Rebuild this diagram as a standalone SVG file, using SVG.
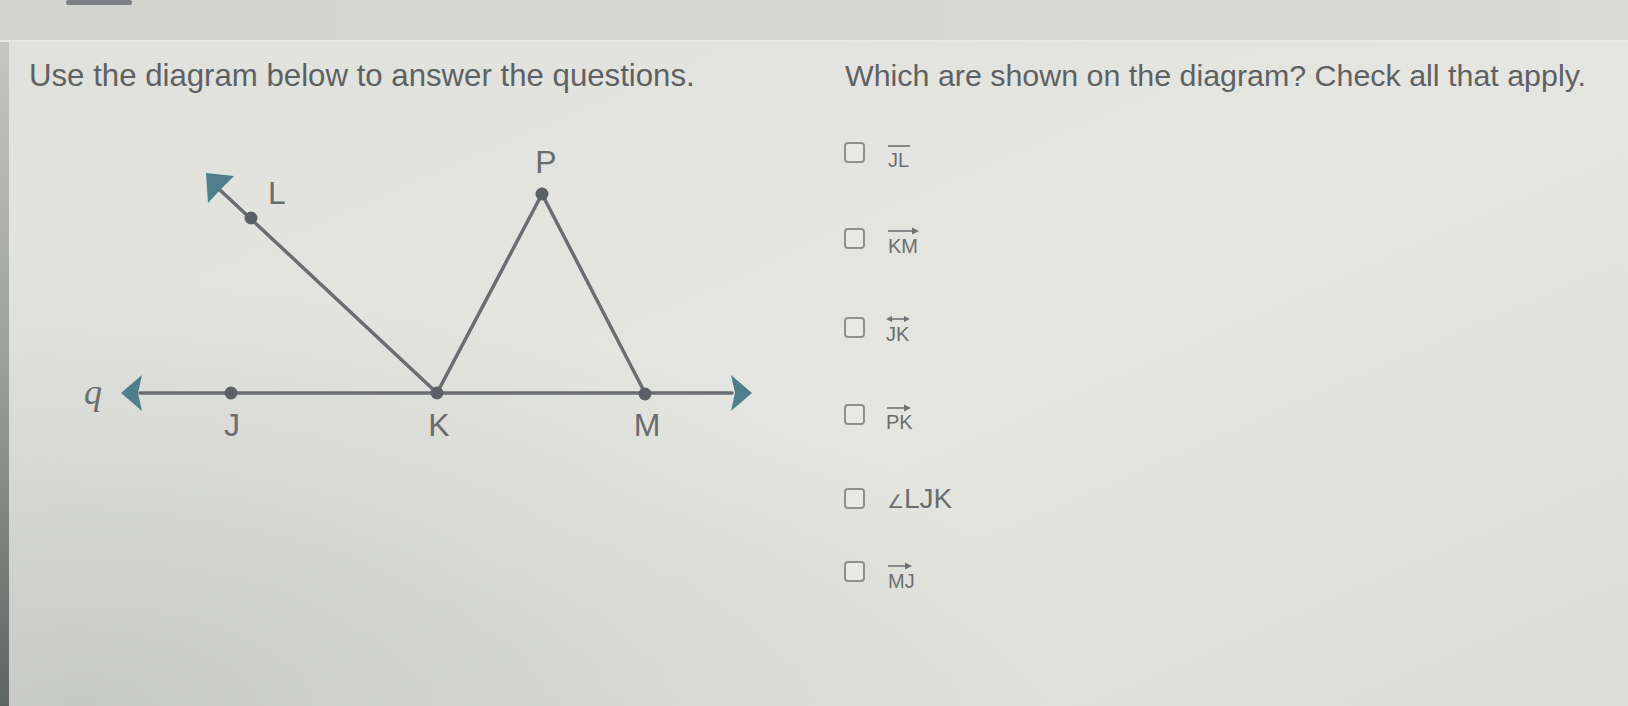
<svg xmlns="http://www.w3.org/2000/svg" width="1628" height="706" viewBox="0 0 1628 706">
  <defs>
    <linearGradient id="bg" x1="0" y1="0" x2="1" y2="1">
      <stop offset="0" stop-color="#e0e1dc"/>
      <stop offset="0.55" stop-color="#e5e6e1"/>
      <stop offset="1" stop-color="#dcddd8"/>
    </linearGradient>
    <radialGradient id="vig" cx="0.05" cy="1" r="0.6">
      <stop offset="0" stop-color="#c4c6c1" stop-opacity="0.9"/>
      <stop offset="1" stop-color="#c4c6c1" stop-opacity="0"/>
    </radialGradient>
    <linearGradient id="edge" x1="0" y1="0" x2="0" y2="1">
      <stop offset="0" stop-color="#c4c6c2"/>
      <stop offset="0.5" stop-color="#9a9e9b"/>
      <stop offset="1" stop-color="#5e6462"/>
    </linearGradient>
    <linearGradient id="band" x1="0" y1="0" x2="1" y2="0">
      <stop offset="0" stop-color="#d4d5d0"/>
      <stop offset="1" stop-color="#d8d9d3"/>
    </linearGradient>
    <style>
      .title { font-family: "Liberation Sans", Arial, sans-serif; font-size: 31.2px; fill: #5e6163; }
      .title2 { font-family: "Liberation Sans", Arial, sans-serif; font-size: 30.4px; fill: #5e6163; }
      .lbl { font-family: "Liberation Sans", Arial, sans-serif; font-size: 32px; fill: #6a6d70; }
      .opt { font-family: "Liberation Sans", Arial, sans-serif; font-size: 20px; fill: #6b6e70; }
      .box { fill: #e8e9e4; stroke: #8e908e; stroke-width: 2; }
      .seg { stroke: #6a6e72; stroke-width: 3.5; fill: none; stroke-linecap: round; }
      .dot { fill: #5b6064; }
      .head { fill: #4f7f8b; }
      .bar { stroke: #707375; stroke-width: 1.6; fill: none; }
      .tip { fill: #707375; }
    </style>
  </defs>

  <!-- background -->
  <rect x="0" y="0" width="1628" height="706" fill="url(#bg)"/>
  <rect x="0" y="0" width="1628" height="706" fill="url(#vig)"/>
  <rect x="0" y="0" width="1628" height="40" fill="url(#band)"/>
  <rect x="0" y="40" width="1628" height="2" fill="#e9eae5"/>
  <rect x="0" y="42" width="9" height="664" fill="url(#edge)"/>
  <rect x="66" y="0" width="66" height="5" rx="2" fill="#7d8084"/>

  <!-- titles -->
  <text class="title" x="29" y="86">Use the diagram below to answer the questions.</text>
  <text class="title2" x="845" y="86">Which are shown on the diagram? Check all that apply.</text>

  <!-- connectors -->
  <g id="connectors">
    <line class="seg" x1="140" y1="393" x2="732" y2="393"/>
    <line class="seg" x1="437" y1="393" x2="220" y2="190"/>
    <line class="seg" x1="437" y1="393" x2="542" y2="194"/>
    <line class="seg" x1="542" y1="194" x2="645" y2="393"/>
    <polygon class="head" points="121,393 142,375 138,393 142,411"/>
    <polygon class="head" points="752,393 731,375 735,393 731,411"/>
    <polygon class="head" points="206,173 234,176 220,190 208,203"/>
  </g>

  <!-- points -->
  <g id="node-L">
    <circle class="dot" cx="251" cy="218" r="6.5"/>
    <text class="lbl" x="268" y="204">L</text>
  </g>
  <g id="node-P">
    <circle class="dot" cx="542" cy="194" r="6.5"/>
    <text class="lbl" x="546" y="173" text-anchor="middle">P</text>
  </g>
  <g id="node-J">
    <circle class="dot" cx="231" cy="393" r="6.5"/>
    <text class="lbl" x="232" y="436" text-anchor="middle">J</text>
  </g>
  <g id="node-K">
    <circle class="dot" cx="437" cy="393" r="6.5"/>
    <text class="lbl" x="439" y="436" text-anchor="middle">K</text>
  </g>
  <g id="node-M">
    <circle class="dot" cx="645" cy="394" r="6.5"/>
    <text class="lbl" x="647" y="436" text-anchor="middle">M</text>
  </g>
  <g id="label-q">
    <text x="84" y="404" font-family="'Liberation Serif', 'Times New Roman', serif" font-style="italic" font-size="36" fill="#6a6d70">q</text>
  </g>

  <!-- options -->
  <g id="opt-1">
    <rect class="box" x="845" y="143" width="19" height="19" rx="3"/>
    <line class="bar" x1="888" y1="146" x2="910" y2="146"/>
    <text class="opt" x="888" y="167">JL</text>
  </g>
  <g id="opt-2">
    <rect class="box" x="845" y="229" width="19" height="19" rx="3"/>
    <line class="bar" x1="888" y1="231" x2="914" y2="231"/>
    <polygon class="tip" points="919,231 912,227.5 912,234.5"/>
    <text class="opt" x="888" y="253">KM</text>
  </g>
  <g id="opt-3">
    <rect class="box" x="845" y="318" width="19" height="19" rx="3"/>
    <line class="bar" x1="890" y1="319" x2="906" y2="319"/>
    <polygon class="tip" points="886,319 892,316 892,322"/>
    <polygon class="tip" points="910,319 904,316 904,322"/>
    <text class="opt" x="886" y="341">JK</text>
  </g>
  <g id="opt-4">
    <rect class="box" x="845" y="405" width="19" height="19" rx="3"/>
    <line class="bar" x1="887" y1="408" x2="906" y2="408"/>
    <polygon class="tip" points="911,408 904,404.5 904,411.5"/>
    <text class="opt" x="886" y="429">PK</text>
  </g>
  <g id="opt-5">
    <rect class="box" x="845" y="489" width="19" height="19" rx="3"/>
    <text x="887" y="508" fill="#6b6e70"><tspan font-family="'DejaVu Sans', sans-serif" font-size="19">∠</tspan><tspan font-family="'Liberation Sans', Arial, sans-serif" font-size="28">LJK</tspan></text>
  </g>
  <g id="opt-6">
    <rect class="box" x="845" y="562" width="19" height="19" rx="3"/>
    <line class="bar" x1="888" y1="566" x2="907" y2="566"/>
    <polygon class="tip" points="912,566 905,562.5 905,569.5"/>
    <text class="opt" x="888" y="588">MJ</text>
  </g>
</svg>
